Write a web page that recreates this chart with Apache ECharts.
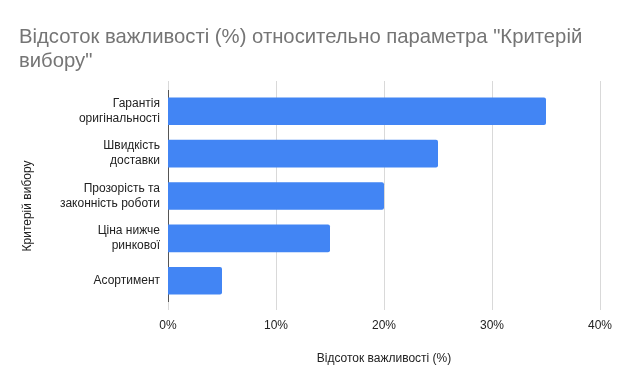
<!DOCTYPE html>
<html><head><meta charset="utf-8">
<script src="https://cdn.jsdelivr.net/npm/echarts@6/dist/echarts.min.js"></script>
<style>html,body{margin:0;padding:0;background:#fff}#c{width:620px;height:383px}</style>
</head><body><div id="c"></div>
<script>
var categories = ["Гарантія\nоригінальності", "Швидкість\nдоставки", "Прозорість та\nзаконність роботи", "Ціна нижче\nринкової", "Асортимент"];
var values = [35, 25, 20, 15, 5];
var xTicks = [0, 10, 20, 30, 40];

var chart = echarts.init(document.getElementById('c'), null, {renderer: 'canvas'});
var font = 'Arial, "Liberation Sans", sans-serif';
var gridColor = '#d9d9d9';
chart.setOption({
  animation: false,
  title: {
    text: 'Відсоток важливості (%) относительно параметра "Критерій\nвибору"',
    left: 14, top: 20,
    textStyle: {color: '#757575', fontSize: 20.3, fontWeight: 'normal', fontFamily: font, lineHeight: 24}
  },
  grid: {left: 168, right: 20, top: 90, bottom: 81, containLabel: false},
  xAxis: [{
    type: 'value', min: xTicks[0], max: xTicks[xTicks.length - 1], interval: 10,
    name: 'Відсоток важливості (%)', nameLocation: 'middle', nameGap: 51,
    nameTextStyle: {color: '#222', fontSize: 12, fontFamily: font},
    axisLabel: {formatter: '{value}%', color: '#222', fontSize: 12, fontFamily: font, margin: 18},
    axisLine: {show: false},
    axisTick: {show: true, length: 8, lineStyle: {color: gridColor}},
    splitLine: {show: true, lineStyle: {color: gridColor}}
  }, {
    type: 'value', position: 'top', min: xTicks[0], max: xTicks[xTicks.length - 1], interval: 10,
    axisLabel: {show: false}, axisLine: {show: false},
    axisTick: {show: true, length: 9, lineStyle: {color: gridColor}},
    splitLine: {show: false}
  }],
  yAxis: {
    type: 'category', data: categories, inverse: true,
    name: 'Критерій вибору', nameLocation: 'middle', nameGap: 134,
    nameTextStyle: {color: '#222', fontSize: 12, fontFamily: font, padding: [0, 20, 0, 0]},
    axisLabel: {color: '#222', fontSize: 12, fontFamily: font, margin: 8, lineHeight: 15},
    axisLine: {show: true, lineStyle: {color: '#555'}},
    axisTick: {show: false}
  },
  series: [{
    type: 'bar', data: values, barCategoryGap: '35%',
    itemStyle: {color: '#4285F4', borderRadius: [0, 2, 2, 0]}
  }]
});
</script></body></html>
